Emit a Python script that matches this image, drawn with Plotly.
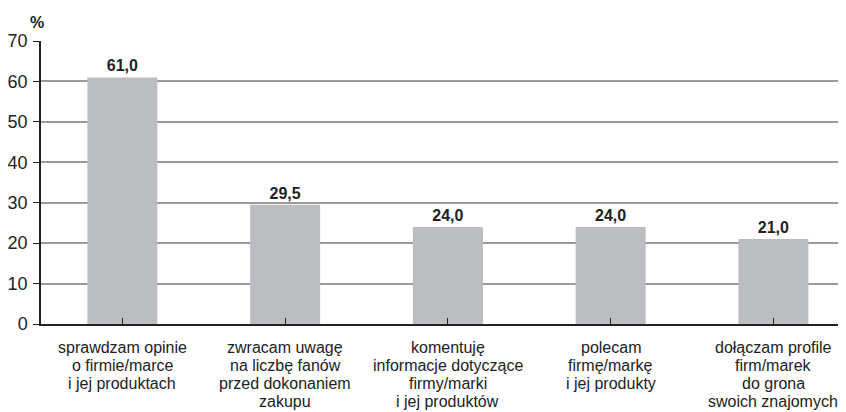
import plotly.graph_objects as go

categories = [
    ["sprawdzam opinie", "o firmie/marce", "i jej produktach"],
    ["zwracam uwagę", "na liczbę fanów", "przed dokonaniem", "zakupu"],
    ["komentuję", "informacje dotyczące", "firmy/marki", "i jej produktów"],
    ["polecam", "firmę/markę", "i jej produkty"],
    ["dołączam profile", "firm/marek", "do grona", "swoich znajomych"],
]
values = [61.0, 29.5, 24.0, 24.0, 21.0]
y_ticks = [0, 10, 20, 30, 40, 50, 60, 70]

labels = [f"{v:.1f}".replace(".", ",") for v in values]
font_family = "Liberation Sans, Arial, sans-serif"
xs = list(range(len(values)))

fig = go.Figure(
    go.Bar(
        x=xs,
        y=values,
        text=labels,
        textposition="outside",
        textfont=dict(family=font_family, size=16, color="#222222", weight="bold"),
        marker=dict(color="#bcbdc1", line=dict(width=0)),
        cliponaxis=False,
    )
)

annotations = [
    dict(
        text="<b>%</b>",
        xref="paper", yref="paper",
        x=-4 / 805, y=1.0, yshift=19,
        xanchor="center", yanchor="middle",
        showarrow=False,
        font=dict(family=font_family, size=16, color="#222222"),
    )
]
for xi, lines in zip(xs, categories):
    for i, line in enumerate(lines):
        annotations.append(
            dict(
                text=line,
                xref="x", yref="paper",
                x=xi, y=0,
                yshift=-23 - i * 18.1,
                xanchor="center", yanchor="middle",
                showarrow=False,
                font=dict(family=font_family, size=16, color="#222222"),
            )
        )

# page body has an 8px default margin, so the figure is 8px smaller
fig.update_layout(
    width=838,
    height=404,
    margin=dict(l=33, r=0, t=33, b=88),
    paper_bgcolor="white",
    plot_bgcolor="white",
    bargap=0.57,
    showlegend=False,
    font=dict(family=font_family, color="#222222"),
    annotations=annotations,
)

fig.update_xaxes(
    tickmode="array",
    tickvals=xs,
    ticktext=["" for _ in xs],
    range=[-0.5, 4.446],
    tickson="boundaries",
    ticks="inside",
    ticklen=6,
    tickcolor="#222222",
    tickwidth=1,
    showline=True,
    linecolor="#222222",
    linewidth=1.5,
    showgrid=False,
    automargin=False,
    fixedrange=True,
)

fig.update_yaxes(
    range=[0, 70],
    tickmode="array",
    tickvals=y_ticks,
    ticks="outside",
    ticklen=6,
    tickcolor="#222222",
    showline=True,
    linecolor="#222222",
    linewidth=1.5,
    showgrid=True,
    gridcolor="#9a9a9a",
    gridwidth=1.5,
    zeroline=False,
    automargin=False,
    ticklabelstandoff=2,
    tickfont=dict(family=font_family, size=18, color="#222222"),
    fixedrange=True,
)

fig.write_html("out.html")
